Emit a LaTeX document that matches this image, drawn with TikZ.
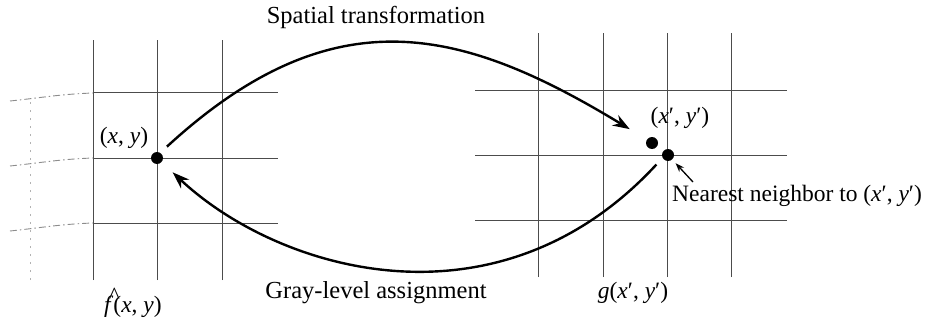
\documentclass[tikz,border=0pt]{standalone}
\usepackage{fontspec}
\setmainfont{Liberation Serif}
\usetikzlibrary{arrows.meta}
\newcommand{\fhat}{\makebox[0pt][l]{\hspace{0.2em}\raisebox{0.4em}{\^{}}}\textit{f}}
\begin{document}
\begin{tikzpicture}[x=1pt,y=1pt,
  grid/.style={line width=1pt, black!70},
  ext/.style={line width=0.9pt, black!45, dash pattern=on 7pt off 3pt on 1.5pt off 3pt},
  faint/.style={line width=0.8pt, black!30, dash pattern=on 2pt off 6pt},
  pix/.style={circle, fill=black, inner sep=0pt, minimum size=12pt},
  lbl/.style={inner sep=0pt, font=\fontsize{23.5}{28}\selectfont},
  biglbl/.style={inner sep=0pt, font=\fontsize{24.5}{28}\selectfont},
  bigarrow/.style={line width=2.4pt, -{Stealth[length=17pt,width=12pt]}},
  smallarrow/.style={line width=1.3pt, -{Stealth[length=9pt,width=6.5pt]}}]
\useasboundingbox (0,0) rectangle (927,322);
% left grid
\foreach \x in {93,157,222} \draw[grid] (\x,42) -- (\x,282);
\foreach \y in {229,164,99} {
  \draw[grid] (93,\y) -- (278,\y);
  \draw[ext] (10,\y-8) to[out=6,in=182] (93,\y);
}
\draw[faint] (30,42) -- (30,222);
% right grid
\foreach \x in {538,603,667,731} \draw[grid] (\x,45) -- (\x,289);
\foreach \y in {231,167,102} \draw[grid] (475,\y) -- (787,\y);
% pixels
\node[pix] (p) at (157,164) {};
\node[pix] (q) at (652,179) {};
\node[pix] (nn) at (668,167) {};
% arrows
\draw[bigarrow, shorten <=9pt, shorten >=20pt] (p.58) .. controls (334,329) and (463,294) .. (q.146);
\draw[bigarrow, shorten <=9pt, shorten >=15pt] (nn.208) .. controls (498,-14) and (279,50) .. (p.-41);
\coordinate (nnarrow) at (693,140);
\draw[smallarrow, shorten >=5pt] (nnarrow) -- (nn);
% labels
\node[biglbl] (st) at (376,305) {Spatial transformation};
\node[biglbl] (ga) at (376,29) {Gray-level assignment};
\node[lbl] (pl) at (124,184) {(\textit{x}, \textit{y})};
\node[lbl] (fl) at (133,19) {\fhat(\textit{x}, \textit{y})};
\node[lbl] (ql) at (680,204) {(\textit{x}′, \textit{y}′)};
\node[lbl] (gl) at (633,29) {\textit{g}(\textit{x}′, \textit{y}′)};
\node[lbl, anchor=west] (nl) at (672,126) {Nearest neighbor to (\textit{x}′, \textit{y}′)};
\end{tikzpicture}
\end{document}
